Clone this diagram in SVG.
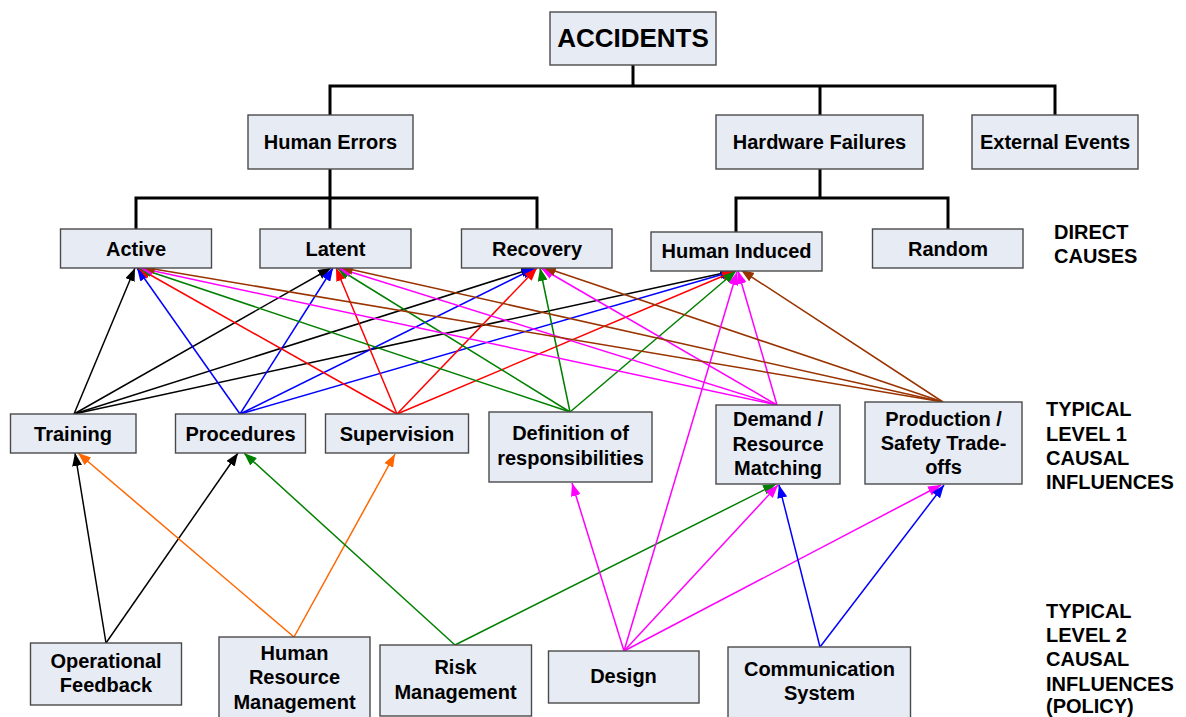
<svg xmlns="http://www.w3.org/2000/svg" width="1186" height="717" viewBox="0 0 1186 717">
  <style>
    .box { fill: #E7EBF4; stroke: #4a4a4a; stroke-width: 1.4; }
    .lbl { font-family: "Liberation Sans", Arial, sans-serif; font-weight: bold; font-size: 20px; fill: #000; text-anchor: middle; }
    .big { font-size: 26px; }
    .side { font-family: "Liberation Sans", Arial, sans-serif; font-weight: bold; font-size: 20px; fill: #000; }
    .tree { fill: none; stroke: #000; stroke-width: 3; }
    .e { fill: none; stroke-width: 1.5; }
    .k { stroke: #000000; }
    .b { stroke: #0000FF; }
    .r { stroke: #FF0000; }
    .g { stroke: #008000; }
    .m { stroke: #FF00FF; }
    .n { stroke: #993300; }
    .o { stroke: #FF6600; }
  </style>
  <defs>
    <marker id="ak" markerUnits="userSpaceOnUse" markerWidth="13" markerHeight="10" refX="13" refY="5" orient="auto"><path d="M0,0 L13,5 L0,10 z" fill="#000000"/></marker>
    <marker id="ab" markerUnits="userSpaceOnUse" markerWidth="13" markerHeight="10" refX="13" refY="5" orient="auto"><path d="M0,0 L13,5 L0,10 z" fill="#0000FF"/></marker>
    <marker id="ar" markerUnits="userSpaceOnUse" markerWidth="13" markerHeight="10" refX="13" refY="5" orient="auto"><path d="M0,0 L13,5 L0,10 z" fill="#FF0000"/></marker>
    <marker id="ag" markerUnits="userSpaceOnUse" markerWidth="13" markerHeight="10" refX="13" refY="5" orient="auto"><path d="M0,0 L13,5 L0,10 z" fill="#008000"/></marker>
    <marker id="am" markerUnits="userSpaceOnUse" markerWidth="13" markerHeight="10" refX="13" refY="5" orient="auto"><path d="M0,0 L13,5 L0,10 z" fill="#FF00FF"/></marker>
    <marker id="an" markerUnits="userSpaceOnUse" markerWidth="13" markerHeight="10" refX="13" refY="5" orient="auto"><path d="M0,0 L13,5 L0,10 z" fill="#993300"/></marker>
    <marker id="ao" markerUnits="userSpaceOnUse" markerWidth="13" markerHeight="10" refX="13" refY="5" orient="auto"><path d="M0,0 L13,5 L0,10 z" fill="#FF6600"/></marker>
  </defs>

  <rect width="1186" height="717" fill="#ffffff"/>

  <!-- hierarchy and influence connectors -->
  <g id="connectors">
    <!-- tree -->
    <path class="tree" d="M633,65 V86 M330,115 V86 H1055 V115 M820,86 V115"/>
    <path class="tree" d="M330,169 V229 M136,229 V198 H537 V229"/>
    <path class="tree" d="M820,169 V198 M736,232 V198 H948 V229"/>

    <!-- Training -->
    <line class="e k" x1="74" y1="414" x2="135" y2="268" marker-end="url(#ak)"/>
    <line class="e k" x1="74" y1="414" x2="331" y2="268" marker-end="url(#ak)"/>
    <line class="e k" x1="74" y1="414" x2="534" y2="268" marker-end="url(#ak)"/>
    <line class="e k" x1="74" y1="414" x2="733" y2="271" marker-end="url(#ak)"/>
    <!-- Procedures -->
    <line class="e b" x1="240" y1="414" x2="137" y2="268" marker-end="url(#ab)"/>
    <line class="e b" x1="240" y1="414" x2="333" y2="268" marker-end="url(#ab)"/>
    <line class="e b" x1="240" y1="414" x2="535" y2="268" marker-end="url(#ab)"/>
    <line class="e b" x1="240" y1="414" x2="734" y2="271" marker-end="url(#ab)"/>
    <!-- Supervision -->
    <line class="e r" x1="397" y1="414" x2="138" y2="268" marker-end="url(#ar)"/>
    <line class="e r" x1="397" y1="414" x2="336" y2="268" marker-end="url(#ar)"/>
    <line class="e r" x1="397" y1="414" x2="537" y2="268" marker-end="url(#ar)"/>
    <line class="e r" x1="397" y1="414" x2="735" y2="271" marker-end="url(#ar)"/>
    <!-- Definition of responsibilities -->
    <line class="e g" x1="570" y1="412" x2="139" y2="268" marker-end="url(#ag)"/>
    <line class="e g" x1="570" y1="412" x2="337" y2="268" marker-end="url(#ag)"/>
    <line class="e g" x1="570" y1="412" x2="540" y2="268" marker-end="url(#ag)"/>
    <line class="e g" x1="570" y1="412" x2="736" y2="271" marker-end="url(#ag)"/>
    <!-- Demand / Resource Matching -->
    <line class="e m" x1="777" y1="405" x2="140" y2="268" marker-end="url(#am)"/>
    <line class="e m" x1="777" y1="405" x2="338" y2="268" marker-end="url(#am)"/>
    <line class="e m" x1="777" y1="405" x2="541" y2="268" marker-end="url(#am)"/>
    <line class="e m" x1="777" y1="405" x2="738" y2="271" marker-end="url(#am)"/>
    <!-- Production / Safety Trade-offs -->
    <line class="e n" x1="943" y1="402" x2="142" y2="267" marker-end="url(#an)"/>
    <line class="e n" x1="943" y1="402" x2="340" y2="267" marker-end="url(#an)"/>
    <line class="e n" x1="943" y1="402" x2="543" y2="267" marker-end="url(#an)"/>
    <line class="e n" x1="943" y1="402" x2="741" y2="270" marker-end="url(#an)"/>

    <!-- Operational Feedback -->
    <line class="e k" x1="106" y1="643" x2="75" y2="453" marker-end="url(#ak)"/>
    <line class="e k" x1="106" y1="643" x2="238" y2="453" marker-end="url(#ak)"/>
    <!-- Human Resource Management -->
    <line class="e o" x1="294" y1="637" x2="78" y2="453" marker-end="url(#ao)"/>
    <line class="e o" x1="294" y1="637" x2="395" y2="454" marker-end="url(#ao)"/>
    <!-- Risk Management -->
    <line class="e g" x1="455" y1="645" x2="244" y2="453" marker-end="url(#ag)"/>
    <line class="e g" x1="455" y1="645" x2="776" y2="484" marker-end="url(#ag)"/>
    <!-- Design -->
    <line class="e m" x1="624" y1="651" x2="572" y2="483" marker-end="url(#am)"/>
    <line class="e m" x1="624" y1="651" x2="737" y2="272" marker-end="url(#am)"/>
    <line class="e m" x1="624" y1="651" x2="778" y2="485" marker-end="url(#am)"/>
    <line class="e m" x1="624" y1="651" x2="941" y2="485" marker-end="url(#am)"/>
    <!-- Communication System -->
    <line class="e b" x1="820" y1="647" x2="779" y2="485" marker-end="url(#ab)"/>
    <line class="e b" x1="820" y1="647" x2="944" y2="485" marker-end="url(#ab)"/>
  </g>

  <!-- top -->
  <g id="accidents"><rect class="box" x="550" y="12" width="166" height="53"/><text class="lbl big" x="633" y="47">ACCIDENTS</text></g>
  <g id="human-errors"><rect class="box" x="248" y="115" width="165" height="54"/><text class="lbl" x="330.5" y="148.5">Human Errors</text></g>
  <g id="hardware-failures"><rect class="box" x="716" y="115" width="207" height="54"/><text class="lbl" x="819.5" y="148.5">Hardware Failures</text></g>
  <g id="external-events"><rect class="box" x="972" y="115" width="166" height="54"/><text class="lbl" x="1055" y="148.5">External Events</text></g>

  <!-- direct causes -->
  <g id="active"><rect class="box" x="60.5" y="229" width="151" height="39"/><text class="lbl" x="136" y="255.5">Active</text></g>
  <g id="latent"><rect class="box" x="260" y="229" width="151" height="39"/><text class="lbl" x="335.5" y="255.5">Latent</text></g>
  <g id="recovery"><rect class="box" x="461.5" y="229" width="150.5" height="39"/><text class="lbl" x="537" y="255.5">Recovery</text></g>
  <g id="human-induced"><rect class="box" x="651" y="232" width="171" height="39"/><text class="lbl" x="736.5" y="258">Human Induced</text></g>
  <g id="random"><rect class="box" x="872.5" y="229" width="150.5" height="39"/><text class="lbl" x="948" y="255.5">Random</text></g>

  <!-- level 1 -->
  <g id="training"><rect class="box" x="10.5" y="414" width="125.5" height="39"/><text class="lbl" x="73" y="440.5">Training</text></g>
  <g id="procedures"><rect class="box" x="175.5" y="414" width="130" height="39"/><text class="lbl" x="240.5" y="440.5">Procedures</text></g>
  <g id="supervision"><rect class="box" x="325.5" y="414" width="143" height="39"/><text class="lbl" x="397" y="440.5">Supervision</text></g>
  <g id="definition"><rect class="box" x="489" y="412" width="163" height="70"/><text class="lbl" x="570.5" y="440">Definition of</text><text class="lbl" x="570.5" y="464.5">responsibilities</text></g>
  <g id="demand"><rect class="box" x="716" y="405" width="124" height="79"/><text class="lbl" x="778" y="426">Demand /</text><text class="lbl" x="778" y="450.5">Resource</text><text class="lbl" x="778" y="475">Matching</text></g>
  <g id="production"><rect class="box" x="865" y="402" width="157" height="82"/><text class="lbl" x="943.5" y="425.5">Production /</text><text class="lbl" x="943.5" y="449.5">Safety Trade-</text><text class="lbl" x="943.5" y="473.5">offs</text></g>

  <!-- level 2 -->
  <g id="operational-feedback"><rect class="box" x="30.5" y="643" width="151" height="62"/><text class="lbl" x="106" y="668">Operational</text><text class="lbl" x="106" y="692">Feedback</text></g>
  <g id="hr-management"><rect class="box" x="219" y="637" width="151" height="90"/><text class="lbl" x="294.5" y="660">Human</text><text class="lbl" x="294.5" y="684">Resource</text><text class="lbl" x="294.5" y="708.5">Management</text></g>
  <g id="risk-management"><rect class="box" x="380" y="645" width="151.5" height="71"/><text class="lbl" x="455.5" y="673.5">Risk</text><text class="lbl" x="455.5" y="698.5">Management</text></g>
  <g id="design"><rect class="box" x="548.5" y="651" width="150.5" height="52"/><text class="lbl" x="623.5" y="683">Design</text></g>
  <g id="communication"><rect class="box" x="728" y="647" width="182.5" height="80"/><text class="lbl" x="819.5" y="676">Communication</text><text class="lbl" x="819.5" y="700">System</text></g>

  <!-- row captions -->
  <g id="captions">
    <text class="side" x="1054" y="239">DIRECT</text>
    <text class="side" x="1054" y="263">CAUSES</text>
    <text class="side" x="1046" y="416">TYPICAL</text>
    <text class="side" x="1046" y="440.5">LEVEL 1</text>
    <text class="side" x="1046" y="464.5">CAUSAL</text>
    <text class="side" x="1046" y="489">INFLUENCES</text>
    <text class="side" x="1046" y="617.5">TYPICAL</text>
    <text class="side" x="1046" y="642">LEVEL 2</text>
    <text class="side" x="1046" y="666">CAUSAL</text>
    <text class="side" x="1046" y="690.5">INFLUENCES</text>
    <text class="side" x="1046" y="713">(POLICY)</text>
  </g>
</svg>
